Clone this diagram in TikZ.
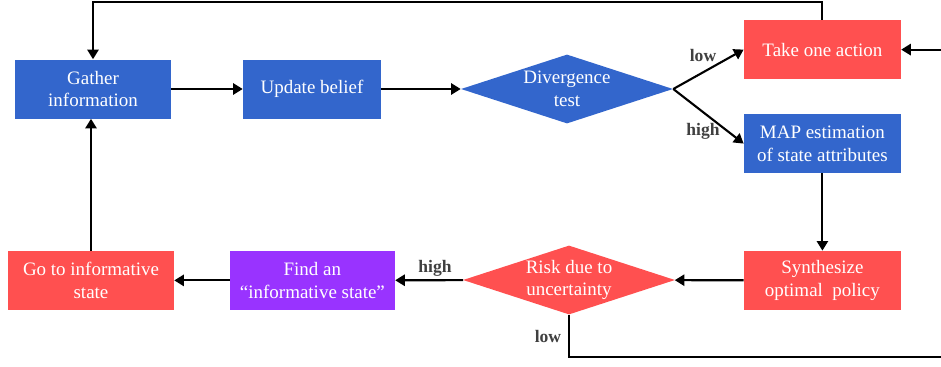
\documentclass[tikz,border=0pt]{standalone}
\usepackage{fontspec}
\setmainfont{Liberation Serif}
\usetikzlibrary{arrows.meta, shapes, positioning, calc}
\definecolor{stepblue}{HTML}{3366CC}
\definecolor{alertred}{HTML}{FF5050}
\definecolor{findpurple}{HTML}{9933FF}
\definecolor{tagcharcoal}{HTML}{404040}

\begin{document}
\begin{tikzpicture}[
    font=\fontsize{13.5}{16}\selectfont,
    box/.style={rectangle, text=white, align=center, inner sep=0pt, minimum height=1.475cm},
    bluebox/.style={box, fill=stepblue},
    redbox/.style={box, fill=alertred},
    purplebox/.style={box, fill=findpurple},
    decide/.style={diamond, aspect=3, text=white, align=center, inner sep=0pt, minimum width=5.3cm, minimum height=1.725cm},
    flow/.style={line width=1.5pt, -{Triangle[length=0.24cm, width=0.28cm]}},
    tag/.style={font=\fontsize{12.5}{14}\selectfont\bfseries, text=tagcharcoal, inner sep=1pt}
  ]
  \useasboundingbox (0,0) rectangle (23.525,-9.15);
  % top row
  \node[bluebox, minimum width=3.9cm] (gather) at (2.325,-2.225) {Gather\\information};
  \node[bluebox, minimum width=3.45cm] (update) at (7.8,-2.225) {Update belief};
  \node[decide, fill=stepblue] (diverge) at (14.175,-2.225) {Divergence\\test};
  \node[redbox, minimum width=3.925cm] (take) at (20.56,-1.24) {Take one action};
  \node[bluebox, minimum width=3.925cm] (map) at (20.56,-3.59) {MAP estimation\\of state attributes};
  % bottom row
  \node[redbox, minimum width=3.925cm] (synth) at (20.56,-7.01) {Synthesize\\optimal~~policy};
  \node[decide, fill=alertred] (risk) at (14.225,-7.0) {Risk due to\\uncertainty};
  \node[purplebox, minimum width=4.125cm] (find) at (7.81,-7.01) {Find an\\``informative state''};
  \node[redbox, minimum width=4.15cm] (goto) at (2.275,-7.01) {Go to informative\\state};
  % loose ends at the right border
  \coordinate (inr) at (23.6,-1.24);
  \coordinate (outb) at (23.6,-8.925);
  % connectors
  \draw[flow] (gather) -- (update);
  \draw[flow] (update) -- (diverge);
  \draw[flow] (diverge.east) -- (take.west);
  \draw[flow] (diverge.east) -- (map.west);
  \draw[flow] (map) -- (synth);
  \draw[flow] (synth) -- (risk);
  \draw[flow] (risk) -- (find);
  \draw[flow] (find) -- (goto);
  \draw[flow] (goto.north) -- (goto.north |- gather.south);
  \draw[flow] (take.north) -- ++(0,0.45) -| (gather.north);
  \draw[flow] (inr) -- (take.east);
  \draw[line width=1.5pt] (risk.south) |- (outb);
  % branch tags
  \node[tag] (lowa) at (17.575,-1.375) {low};
  \node[tag] (higha) at (17.575,-3.275) {high};
  \node[tag] (highb) at (10.875,-6.7) {high};
  \node[tag] (lowb) at (13.7,-8.4) {low};
\end{tikzpicture}
\end{document}
